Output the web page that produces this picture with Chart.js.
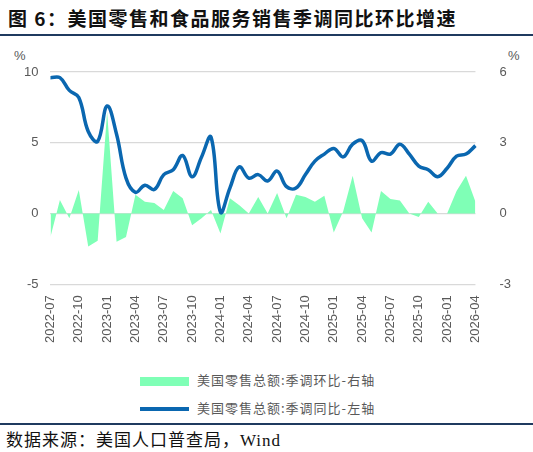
<!DOCTYPE html>
<html><head><meta charset="utf-8">
<script src="https://cdn.jsdelivr.net/npm/chart.js@4"></script>
<style>
body{margin:0;width:533px;height:452px;background:#fff;position:relative;overflow:hidden;font-family:"Liberation Sans",sans-serif}
#title{position:absolute;left:8px;top:4px;font:bold 19px "Noto Sans CJK SC";color:#111;letter-spacing:1.5px}
#tl{position:absolute;left:0;top:34px;width:533px;height:2px;background:#1f3a5f}
#bl{position:absolute;left:0;top:423px;width:533px;height:2px;background:#1f3a5f}
#src{position:absolute;left:6px;top:426px;font:17px "Liberation Serif","Noto Sans CJK SC";color:#111;letter-spacing:1px}
.pc{position:absolute;top:48px;font:13px "Liberation Sans";color:#595959}
#wrap{position:absolute;left:0;top:40px;width:533px;height:310px}
.lg{position:absolute;left:140px;font:13px "Noto Sans CJK SC";color:#595959;letter-spacing:1px}
.sw{display:inline-block;width:49px;vertical-align:middle;margin-right:8px}
</style></head><body>
<div id="title">图 6：美国零售和食品服务销售季调同比环比增速</div>
<div id="tl"></div>
<div class="pc" style="left:14px">%</div>
<div class="pc" style="left:508px">%</div>
<div id="wrap"><canvas id="c" width="533" height="310" style="width:533px;height:310px"></canvas></div>
<div class="lg" style="top:370px"><span class="sw" style="height:9px;background:#7fffb6"></span>美国零售总额:季调环比-右轴</div>
<div class="lg" style="top:398px"><span class="sw" style="height:4px;background:#0a67b0"></span>美国零售总额:季调同比-左轴</div>
<div id="bl"></div>
<div id="src">数据来源：美国人口普查局，Wind</div>
<script>
const months=[];
for(let y=2022,m=7;!(y===2026&&m===5);){months.push(y+'-'+String(m).padStart(2,'0'));m++;if(m>12){m=1;y++;}}
const yoy=[9.6,9.6,8.7,8.2,5.8,5.1,7.6,5.6,2.5,1.5,2.0,1.7,2.75,3.1,4.1,2.6,4.0,5.4,0.1,1.8,3.3,2.5,2.75,2.3,3.0,1.9,1.8,2.75,3.7,4.2,4.6,4.0,4.9,5.15,3.7,4.3,4.2,4.9,4.2,3.35,3.1,2.6,3.2,4.05,4.2,4.8];
const mom=[-1.0,0.57,-0.2,1.0,-1.4,-1.15,4.3,-1.2,-1.0,0.8,0.5,0.45,0.15,0.95,0.65,-0.5,-0.2,0.15,-0.85,0.65,0.35,0,0.7,0,0.87,-0.2,0.8,0.7,0.5,0.75,-0.8,0.1,1.6,-0.2,-0.8,0.95,0.62,0.55,0,-0.15,0.5,0,0,0.95,1.6,0.5];
const tickFont={family:"Liberation Sans",size:13};
new Chart(document.getElementById('c'),{
 data:{labels:months,datasets:[
  {type:'line',data:yoy,yAxisID:'yL',borderColor:'#0a67b0',borderWidth:3.5,pointRadius:0,tension:0.4,fill:false,order:0},
  {type:'line',data:mom,yAxisID:'yR',backgroundColor:'#7fffb6',borderWidth:0,pointRadius:0,tension:0,fill:'origin',order:1}
 ]},
 options:{responsive:false,animation:false,devicePixelRatio:1,
  layout:{padding:{top:32,left:12,right:6,bottom:4}},
  plugins:{legend:{display:false},tooltip:{enabled:false}},
  scales:{
   x:{offset:false,grid:{display:false},border:{display:false},
      ticks:{autoSkip:false,maxRotation:90,minRotation:90,color:'#595959',font:tickFont,
        callback:(v,i)=>i%3===0?months[i]:''}},
   yL:{position:'left',min:-5,max:10,ticks:{stepSize:5,color:'#595959',font:tickFont,padding:12},
      grid:{color:'#d9d9d9',drawTicks:false,lineWidth:1.3},border:{display:false}},
   yR:{position:'right',min:-3,max:6,ticks:{stepSize:3,color:'#595959',font:tickFont,padding:16},
      grid:{display:false},border:{display:false}}
  }}
});
</script>
</body></html>
